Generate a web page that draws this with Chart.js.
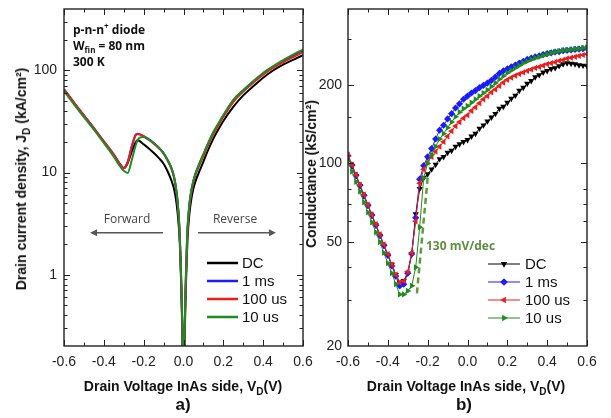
<!DOCTYPE html>
<html><head><meta charset="utf-8">
<script src="https://cdn.jsdelivr.net/npm/chart.js@4.4.1/dist/chart.umd.min.js"></script>
<style>
html,body{margin:0;padding:0;background:#fff}
#wrap{position:relative;width:611px;height:418px;overflow:hidden;background:#fff}
canvas{position:absolute;top:0}
#c1{left:0}
#c2{left:300px}
.t{position:absolute;white-space:nowrap;color:#111;line-height:1}
.ax{font:bold 14px "Liberation Sans",Arial,sans-serif;transform:translate(-50%,-50%)}
.ay{font:bold 14px "Liberation Sans",Arial,sans-serif;transform:translate(-50%,-50%) rotate(-90deg)}
.sub{font-size:10px;position:relative;top:4px}
.sub2{font-size:8px;position:relative;top:3px}
.sup{font-size:8px;position:relative;top:-5px}
.info{font:bold 12px "Open Sans",sans-serif;left:73px}
.ann{font:12px "Open Sans",sans-serif;color:#444;transform:translate(-50%,-50%)}
.lab{font:bold 17px "Liberation Sans",Arial,sans-serif;transform:translate(-50%,-50%)}
.slope{font:bold 12px "Open Sans",sans-serif;color:#5e8f3e;transform:translate(0,-50%)}
</style></head>
<body>
<div id="wrap">
<canvas id="c1" width="320" height="418"></canvas>
<canvas id="c2" width="311" height="418"></canvas>
<div class="t info" style="top:21px">p-n-n<span class="sup">+</span> diode</div>
<div class="t info" style="top:37px">W<span class="sub2">fin</span> = 80 nm</div>
<div class="t info" style="top:53px">300 K</div>
<div class="t ann" style="left:127px;top:218px">Forward</div>
<div class="t ann" style="left:235px;top:218px">Reverse</div>
<div class="t slope" style="left:426px;top:245px">130 mV/dec</div>
<div class="t ay" style="left:21px;top:179px">Drain current density, J<span class="sub">D</span> (kA/cm²)</div>
<div class="t ay" style="left:311px;top:174px">Conductance (kS/cm²)</div>
<div class="t ax" style="left:183px;top:386px">Drain Voltage InAs side, V<span class="sub">D</span>(V)</div>
<div class="t ax" style="left:466px;top:386px">Drain Voltage InAs side, V<span class="sub">D</span>(V)</div>
<div class="t lab" style="left:183px;top:405px">a)</div>
<div class="t lab" style="left:464px;top:405px">b)</div>
</div>
<script>
// ---------- data ----------
const SERIES = ['DC', '1 ms', '100 us', '10 us'];
const COLORS = ['#000000', '#1a1aff', '#ee1c1c', '#1e8c1e'];

// a) current density (kA/cm^2) vs drain voltage (V)
const V_L = [-0.6, -0.55, -0.5, -0.45, -0.4, -0.35, -0.32, -0.3, -0.28, -0.26, -0.24, -0.23, -0.22, -0.2, -0.18, -0.15, -0.12, -0.1, -0.08, -0.06, -0.05, -0.04, -0.03, -0.02, -0.015, -0.01, -0.005, 0, 0.005, 0.01, 0.015, 0.02, 0.03, 0.04, 0.05, 0.06, 0.08, 0.1, 0.12, 0.15, 0.18, 0.2, 0.25, 0.3, 0.35, 0.4, 0.45, 0.5, 0.55, 0.6];
const J_DC    = [65, 48, 36, 27, 20, 14.8, 12.1, 11.0, 12.4, 16.0, 19.8, 20.8, 20.3, 18.9, 17.6, 15.6, 13.6, 12.2, 10.3, 8.3, 7.2, 5.8, 4.1, 2.3, 1.3, 0.6, 0.22, 0.05, 0.2, 0.55, 1.2, 2.2, 4.0, 5.6, 7.0, 8.2, 10.3, 12.8, 16.0, 21.5, 27.5, 32, 44, 57, 70, 85, 100, 114, 127, 141];
const J_1MS   = [65.5, 48.5, 36.3, 27.2, 20.2, 15, 12.2, 11.1, 12.8, 18.0, 23.4, 24.0, 23.8, 22.8, 21.6, 19.5, 17.2, 15.5, 13.3, 11.0, 9.5, 7.6, 5.3, 2.8, 1.5, 0.7, 0.26, 0.06, 0.25, 0.7, 1.5, 2.8, 5.0, 6.8, 8.3, 9.7, 12.2, 15.0, 18.5, 24.5, 31, 36, 51, 64, 78, 94, 109, 124, 140, 157];
const J_100US = [65.5, 48.5, 36.3, 27.2, 20.2, 15, 12.2, 11.0, 12.6, 17.9, 23.3, 23.8, 23.6, 22.6, 21.4, 19.3, 17.0, 15.3, 13.1, 10.8, 9.3, 7.4, 5.1, 2.7, 1.45, 0.68, 0.25, 0.06, 0.24, 0.65, 1.4, 2.6, 4.7, 6.5, 8.0, 9.4, 11.8, 14.5, 18, 23.8, 30, 35, 49, 62, 76, 91, 106, 120, 135, 151];
const J_10US  = [63, 46.5, 35, 26.3, 19.5, 14.3, 11.6, 10.4, 9.9, 13.2, 18.5, 20.8, 22.0, 22.3, 21.4, 19.5, 17.2, 15.5, 13.3, 11.0, 9.5, 7.6, 5.3, 2.8, 1.5, 0.7, 0.26, 0.06, 0.25, 0.7, 1.5, 2.8, 5.0, 6.8, 8.4, 9.8, 12.3, 15.2, 18.8, 25, 31.5, 36.5, 51.5, 64, 78.5, 94.5, 110, 126, 143, 160];

// b) conductance (kS/cm^2) vs drain voltage (V)
const V_R = [-0.6, -0.58, -0.56, -0.54, -0.52, -0.5, -0.48, -0.46, -0.44, -0.42, -0.4, -0.38, -0.36, -0.34, -0.32, -0.3, -0.28, -0.26, -0.24, -0.22, -0.2, -0.18, -0.16, -0.14, -0.12, -0.1, -0.08, -0.06, -0.04, -0.02, 0, 0.02, 0.04, 0.06, 0.08, 0.1, 0.12, 0.14, 0.16, 0.18, 0.2, 0.22, 0.24, 0.26, 0.28, 0.3, 0.32, 0.34, 0.36, 0.38, 0.4, 0.42, 0.44, 0.46, 0.48, 0.5, 0.52, 0.54, 0.56, 0.58, 0.6];
const G_DC    = [106, 97.5, 89.5, 82, 75, 69, 63, 58, 53, 48.5, 44.5, 41, 37.5, 35, 35.5, 38, 45, 64, 80, 88, 91, 95, 99, 104, 106, 110, 112, 116, 118.5, 121, 123, 127, 130, 136, 140, 145, 150, 155, 162, 165, 171, 177, 182, 190, 195, 202, 207, 214, 218, 223, 226, 230, 232, 236, 240, 242, 241, 240, 238, 237, 236];
const G_1MS   = [107, 98.5, 90, 82.5, 75.5, 69, 63.5, 58, 53, 48.5, 44.5, 40.5, 37, 34, 34.5, 38, 45, 62, 87, 98, 106, 114, 124, 134, 140, 148, 155, 163, 169, 176, 181, 186, 190, 195, 199, 203, 208, 214, 221, 226, 230, 234, 238, 242, 246, 250, 253, 256, 258, 261, 263, 265, 267, 268, 270, 271, 272, 273, 274, 275, 276];
const G_100US = [108, 99, 90.5, 83, 76, 69.5, 63.5, 58.5, 53.5, 49, 45, 41, 37.5, 35, 35.5, 38.5, 45.5, 60, 84, 95, 101, 106, 111, 116, 121, 127, 133, 139, 144, 149, 153, 159, 164, 170, 176, 181, 187, 192, 198, 204, 209, 213, 217, 220, 223, 226, 229, 232, 234, 237, 240, 242, 244, 247, 249, 252, 254, 256, 258, 260, 262];
const G_10US  = [102, 93, 85, 78, 71, 65, 59.5, 54.5, 50, 45.5, 41.5, 38, 34.5, 31.5, 31.5, 32.5, 34, 40, 57, 88, 100, 108, 116, 124, 130, 137, 144, 151, 157, 162, 166, 171, 176, 181, 186, 191, 197, 203, 210, 216, 222, 227, 232, 237, 242, 246, 250, 253, 256, 259, 262, 265, 267, 269, 271, 272, 273, 274, 275, 277, 278];

// 130 mV/dec guide line (V, kS/cm^2)
const SLOPE_V = [-0.254, -0.198];
const SLOPE_G = [31.8, 91.4];

// ticks
const X_TICKS = [-0.6, -0.4, -0.2, 0, 0.2, 0.4, 0.6];
const X_MINOR = [-0.5, -0.3, -0.1, 0.1, 0.3, 0.5];
const YL_TICKS = [1, 10, 100];
const YL_MINOR = [0.3, 0.4, 0.5, 0.6, 0.7, 0.8, 0.9, 2, 3, 4, 5, 6, 7, 8, 9, 20, 30, 40, 50, 60, 70, 80, 90, 200, 300];
const YR_TICKS = [20, 50, 100, 200];
const YR_MINOR = [30, 40, 60, 70, 80, 150, 300];

// Forward / Reverse arrows (V, J)
const ARROW_FWD = [[-0.103, 2.57], [-0.469, 2.57]];
const ARROW_REV = [[0.073, 2.57], [0.464, 2.57]];

// ---------- helpers ----------
const FONT = '"Liberation Sans", Arial, sans-serif';
const pts = (xs, ys) => xs.map((x, i) => ({x: x, y: ys[i]}));
const fmtX = v => Math.abs(v) < 1e-9 ? '0.0' : Number(v).toFixed(1);

function drawMark(ctx, style, rot, x, y, r) {
  ctx.save();
  ctx.translate(x, y);
  ctx.rotate(rot * Math.PI / 180);
  ctx.beginPath();
  if (style === 'rectRot') {
    ctx.moveTo(0, -r); ctx.lineTo(r, 0); ctx.lineTo(0, r); ctx.lineTo(-r, 0);
  } else {
    ctx.moveTo(0, -r); ctx.lineTo(r * 0.866, r * 0.5); ctx.lineTo(-r * 0.866, r * 0.5);
  }
  ctx.closePath();
  ctx.fill();
  ctx.restore();
}

const framePlugin = {
  id: 'frame',
  afterDatasetsDraw(chart, args, o) {
    const {ctx, chartArea: a} = chart;
    const xs = chart.scales.x, ys = chart.scales.y;
    ctx.save();
    ctx.strokeStyle = '#222';
    ctx.lineWidth = 1;
    const vt = (vals, len) => vals.forEach(v => {
      const px = Math.round(xs.getPixelForValue(v)) + 0.5;
      ctx.beginPath();
      ctx.moveTo(px, a.bottom); ctx.lineTo(px, a.bottom - len);
      ctx.moveTo(px, a.top); ctx.lineTo(px, a.top + len);
      ctx.stroke();
    });
    const ht = (vals, len) => vals.forEach(v => {
      const py = Math.round(ys.getPixelForValue(v)) + 0.5;
      if (py < a.top + 2 || py > a.bottom - 2) return;
      ctx.beginPath();
      ctx.moveTo(a.left, py); ctx.lineTo(a.left + len, py);
      ctx.moveTo(a.right, py); ctx.lineTo(a.right - len, py);
      ctx.stroke();
    });
    vt(o.xMajor, 6); vt(o.xMinor, 3.5);
    ht(o.yMajor, 6); ht(o.yMinor, 3.5);
    ctx.lineWidth = 1.4;
    ctx.strokeRect(a.left, a.top, a.right - a.left, a.bottom - a.top);
    ctx.restore();
  }
};

const legendPlugin = {
  id: 'lg',
  afterDraw(chart, args, o) {
    const ctx = chart.ctx;
    ctx.save();
    ctx.font = '15px ' + FONT;
    ctx.textBaseline = 'middle';
    let i = 0;
    chart.data.datasets.forEach(ds => {
      if (!ds.inLegend) return;
      const y = o.y + i * o.dy;
      ctx.strokeStyle = ds.borderColor;
      ctx.lineWidth = o.lw;
      ctx.beginPath(); ctx.moveTo(o.x, y); ctx.lineTo(o.x + o.len, y); ctx.stroke();
      if (o.marker) {
        ctx.fillStyle = ds.borderColor;
        drawMark(ctx, ds.pointStyle, ds.pointRotation || 0, o.x + o.len / 2, y, 3.8);
      }
      ctx.fillStyle = '#111';
      ctx.fillText(ds.label, o.x + o.len + o.gap, y + 1);
      i++;
    });
    ctx.restore();
  }
};

const arrowPlugin = {
  id: 'arrows',
  afterDatasetsDraw(chart, args, o) {
    if (!o.list) return;
    const ctx = chart.ctx, xs = chart.scales.x, ys = chart.scales.y;
    ctx.save();
    ctx.strokeStyle = '#555'; ctx.fillStyle = '#555'; ctx.lineWidth = 1.5;
    o.list.forEach(ar => {
      const x0 = xs.getPixelForValue(ar[0][0]), y0 = ys.getPixelForValue(ar[0][1]);
      const x1 = xs.getPixelForValue(ar[1][0]), y1 = ys.getPixelForValue(ar[1][1]);
      const dir = Math.sign(x1 - x0);
      ctx.beginPath(); ctx.moveTo(x0, y0); ctx.lineTo(x1 - dir * 5, y1); ctx.stroke();
      ctx.beginPath(); ctx.moveTo(x1, y1); ctx.lineTo(x1 - dir * 7, y1 - 3.5); ctx.lineTo(x1 - dir * 7, y1 + 3.5); ctx.closePath(); ctx.fill();
    });
    ctx.restore();
  }
};

function xScale() {
  return {
    type: 'linear', min: -0.6, max: 0.6,
    afterBuildTicks: s => { s.ticks = X_TICKS.map(v => ({value: v})); },
    afterFit: s => { s.height = 72; s.paddingLeft = 0; s.paddingRight = 0; },
    grid: {display: false, drawTicks: false},
    border: {display: false},
    ticks: {font: {family: FONT, size: 14}, color: '#222', padding: 8, maxRotation: 0, autoSkip: false, callback: v => fmtX(v)}
  };
}
function yScale(min, max, ticks, width, pad) {
  return {
    type: 'logarithmic', min: min, max: max,
    afterBuildTicks: s => { s.ticks = ticks.map(v => ({value: v})); },
    afterFit: s => { s.width = width; s.paddingTop = 0; s.paddingBottom = 0; },
    grid: {display: false, drawTicks: false},
    border: {display: false},
    ticks: {font: {family: FONT, size: 14}, color: '#222', padding: pad, autoSkip: false, callback: v => String(v)}
  };
}

// ---------- chart a ----------
const J_ALL = [J_DC, J_1MS, J_100US, J_10US];
new Chart(document.getElementById('c1'), {
  type: 'line',
  data: {
    datasets: SERIES.map((name, k) => ({
      label: name, inLegend: true,
      data: pts(V_L, J_ALL[k]),
      borderColor: COLORS[k], backgroundColor: COLORS[k],
      borderWidth: 2, pointRadius: 0, fill: false,
      cubicInterpolationMode: 'monotone',
      order: 3 - k
    }))
  },
  options: {
    responsive: false, animation: false, devicePixelRatio: 1,
    layout: {padding: {top: 9, right: 17, left: 0, bottom: 0}},
    plugins: {
      legend: {display: false}, tooltip: {enabled: false},
      frame: {xMajor: X_TICKS, xMinor: X_MINOR, yMajor: YL_TICKS, yMinor: YL_MINOR},
      lg: {x: 207, y: 263, dy: 18, len: 31, gap: 4, lw: 2.5, marker: false},
      arrows: {list: [ARROW_FWD, ARROW_REV]}
    },
    scales: {x: xScale(), y: yScale(0.2, 400, YL_TICKS, 64, 7)}
  },
  plugins: [framePlugin, legendPlugin, arrowPlugin]
});

// ---------- chart b ----------
const G_ALL = [G_DC, G_1MS, G_100US, G_10US];
const STYLES = [['triangle', 180], ['rectRot', 0], ['triangle', 270], ['triangle', 90]];
const dsB = SERIES.map((name, k) => ({
  label: name, inLegend: true,
  data: pts(V_R, G_ALL[k]),
  borderColor: COLORS[k], backgroundColor: COLORS[k],
  borderWidth: 1, pointRadius: 3.6, pointBorderWidth: 0, pointHoverRadius: 3.6,
  pointStyle: STYLES[k][0], pointRotation: STYLES[k][1],
  fill: false, tension: 0, order: 4 - k
}));
dsB.push({
  label: '130 mV/dec', inLegend: false,
  data: pts(SLOPE_V, SLOPE_G),
  borderColor: '#5e9a3e', borderWidth: 2.5, borderDash: [6, 4],
  pointRadius: 0, fill: false, order: 0
});
new Chart(document.getElementById('c2'), {
  type: 'line',
  data: {datasets: dsB},
  options: {
    responsive: false, animation: false, devicePixelRatio: 1,
    layout: {padding: {top: 9, right: 24, left: 0, bottom: 0}},
    plugins: {
      legend: {display: false}, tooltip: {enabled: false},
      frame: {xMajor: X_TICKS, xMinor: X_MINOR, yMajor: YR_TICKS, yMinor: YR_MINOR},
      lg: {x: 188, y: 264, dy: 18, len: 32, gap: 5, lw: 1, marker: true}
    },
    scales: {x: xScale(), y: yScale(20, 390, YR_TICKS, 48, 6)}
  },
  plugins: [framePlugin, legendPlugin]
});
</script>
</body></html>
